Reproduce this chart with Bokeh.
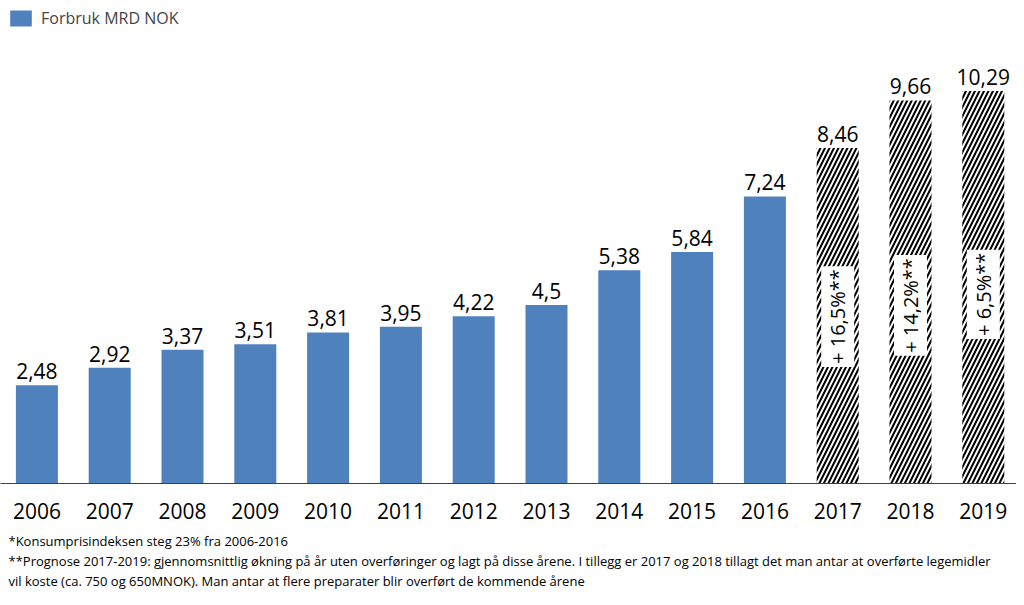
from math import pi
from bokeh.plotting import figure
from bokeh.models import ColumnDataSource, Range1d, FixedTicker, Legend, LegendItem, Title
from bokeh.core.properties import value
from bokeh.embed import file_html
from bokeh.resources import INLINE

years = ["2006", "2007", "2008", "2009", "2010", "2011", "2012", "2013", "2014", "2015", "2016"]
spend = [2.48, 2.92, 3.37, 3.51, 3.81, 3.95, 4.22, 4.50, 5.38, 5.84, 7.24]
spend_labels = ["2,48", "2,92", "3,37", "3,51", "3,81", "3,95", "4,22", "4,5", "5,38", "5,84", "7,24"]

forecast_years = ["2017", "2018", "2019"]
forecast_heights = [8.46, 9.66, 9.90]   # bar heights as drawn in the picture
forecast_labels = ["8,46", "9,66", "10,29"]
growth_labels = ["+ 16,5%**", "+ 14,2%**", "+ 6,5%**"]
growth_label_y = [4.21, 4.49, 4.77]

footnotes = [
    "*Konsumprisindeksen steg 23% fra 2006-2016",
    "**Prognose 2017-2019: gjennomsnittlig økning på år uten overføringer og lagt på disse årene. I tillegg er 2017 og 2018 tillagt det man antar at overførte legemidler",
    "vil koste (ca. 750 og 650MNOK). Man antar at flere preparater blir overført de kommende årene",
]

all_years = years + forecast_years
FONT = "Open Sans"
BLUE = "#4F81BD"

p = figure(width=1016, height=589, output_backend="svg", toolbar_location=None,
           x_range=Range1d(-0.5, 13.456), y_range=Range1d(0, 12.18),
           min_border_left=0, min_border_right=0, min_border_top=0, min_border_bottom=0)
p.outline_line_color = None
p.grid.visible = False
p.yaxis.visible = False
p.background_fill_color = "white"
p.border_fill_color = "white"

xa = p.xaxis[0]
xa.ticker = FixedTicker(ticks=list(range(len(all_years))))
xa.major_label_overrides = {i: y for i, y in enumerate(all_years)}
xa.major_tick_line_color = None
xa.minor_tick_line_color = None
xa.axis_line_color = "#404040"
xa.axis_line_width = 1.2
xa.major_label_text_font = FONT
xa.major_label_text_font_size = "21px"
xa.major_label_text_color = "black"
xa.major_label_standoff = 13

src = ColumnDataSource(dict(x=list(range(len(years))), top=spend, lab=spend_labels))
bars = p.vbar(x="x", top="top", width=0.577, source=src, fill_color=BLUE, line_color=None)
p.text(x="x", y="top", text="lab", source=src, text_align="center", text_baseline="bottom",
       y_offset=-6, text_font=value(FONT), text_font_size="21px", text_color="black")

fx = list(range(len(years), len(all_years)))
fsrc = ColumnDataSource(dict(x=fx, top=forecast_heights, lab=forecast_labels,
                             g=growth_labels, gy=growth_label_y))
p.vbar(x="x", top="top", width=0.577, source=fsrc, fill_color="white", line_color=None,
       hatch_pattern="/", hatch_color="black", hatch_scale=9, hatch_weight=2)
p.text(x="x", y="top", text="lab", source=fsrc, text_align="center", text_baseline="bottom",
       y_offset=-6, text_font=value(FONT), text_font_size="21px", text_color="black")
p.text(x="x", y="gy", text="g", source=fsrc, angle=pi / 2, text_align="center",
       text_baseline="middle", text_font=value(FONT), text_font_size="20px", text_color="black",
       background_fill_color="white", padding=3)

legend = Legend(items=[LegendItem(label="Forbruk MRD NOK", renderers=[bars])],
                location="top_left", orientation="horizontal", margin=7, padding=1,
                glyph_width=27, glyph_height=20, label_text_font=FONT,
                label_text_font_size="16px", label_standoff=7,
                border_line_color=None, background_fill_alpha=0)
p.add_layout(legend)

# spacer between the axis labels and the footnotes
p.add_layout(Title(text=" ", text_font=FONT, text_font_size="5px", standoff=0), "below")
for t in footnotes:
    p.add_layout(Title(text=t, align="left", text_font=FONT, text_font_size="13px",
                       text_font_style="normal", text_color="black", standoff=0, offset=8),
                 "below")

open("out.html", "w").write(file_html(p, INLINE))
